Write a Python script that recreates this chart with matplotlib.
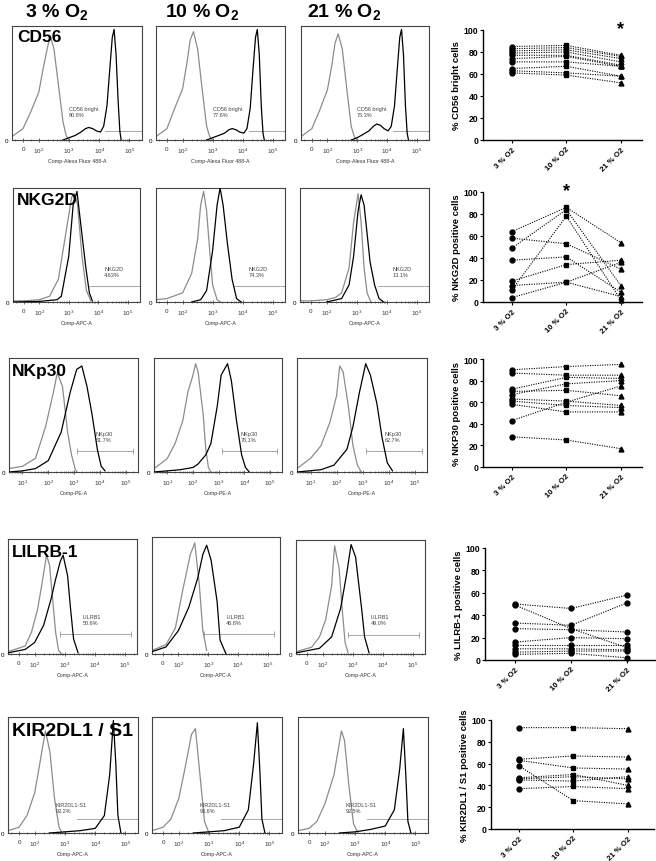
import matplotlib
matplotlib.use("Agg")
import matplotlib.pyplot as plt
from matplotlib.ticker import FixedLocator, NullFormatter

plt.rcParams['font.family'] = ['Liberation Sans', 'DejaVu Sans']
plt.rcParams['mathtext.fontset'] = 'custom'
plt.rcParams['mathtext.rm'] = 'Liberation Sans'
plt.rcParams['mathtext.it'] = 'Liberation Sans:italic'
plt.rcParams['mathtext.bf'] = 'Liberation Sans:bold'

W, H = 656, 862

# ---------------- data: titles / labels ----------------
conditions = ["3 % O2", "10 % O2", "21 % O2"]
markers_names = ["CD56", "NKG2D", "NKp30", "LILRB-1", "KIR2DL1 / S1"]
axis_names = ["Comp-Alexa Fluor 488-A", "Comp-APC-A", "Comp-PE-A", "Comp-APC-A", "Comp-APC-A"]
gate_names = ["CD56 bright", "NKG2D", "NKp30", "LILRB1", "KIR2DL1-S1"]

cd56_pct = ["80.8%", "77.6%", "75.3%"]
nkg2d_pct = ["4.63%", "74.3%", "13.1%"]
nkp30_pct = ["61.7%", "76.1%", "62.7%"]
lilrb1_pct = ["50.6%", "46.8%", "49.0%"]
kir_pct = ["93.2%", "93.6%", "92.5%"]

# ---------------- data: histogram curves (fluorescence, relative count) ----------------
cd56_iso_x = [[-70, 0, 50, 100, 140, 200, 240, 316, 447, 631, 800, 1000],
              [-70, 0, 50, 100, 140, 180, 230, 316, 447, 631, 800, 1000],
              [-70, 0, 50, 100, 140, 180, 230, 316, 447, 631, 800, 1000]]
cd56_iso_y = [[0.03, 0.1, 0.25, 0.42, 0.63, 0.83, 0.91, 0.8, 0.48, 0.16, 0.04, 0.0],
              [0.03, 0.1, 0.28, 0.45, 0.68, 0.88, 0.95, 0.8, 0.45, 0.12, 0.03, 0.0],
              [0.03, 0.1, 0.26, 0.44, 0.65, 0.85, 0.93, 0.8, 0.45, 0.12, 0.03, 0.0]]
cd56_pos_x = [[631, 1000, 1600, 2500, 3500, 4500, 6000, 8000, 11000, 14000, 18000, 22000, 27000, 31000, 36000, 42000, 48000, 53000],
              [631, 1000, 1600, 2500, 3500, 4500, 6000, 8000, 11000, 14000, 18000, 22000, 27000, 31000, 36000, 42000, 48000, 53000],
              [631, 1000, 1600, 2500, 3500, 4500, 6000, 8000, 11000, 14000, 18000, 22000, 27000, 31000, 36000, 42000, 48000, 53000]]
cd56_pos_y = [[0.0, 0.02, 0.04, 0.07, 0.1, 0.11, 0.1, 0.08, 0.07, 0.12, 0.3, 0.6, 0.9, 0.97, 0.75, 0.35, 0.08, 0.0],
              [0.0, 0.02, 0.04, 0.06, 0.09, 0.1, 0.09, 0.07, 0.06, 0.1, 0.28, 0.6, 0.9, 0.97, 0.75, 0.3, 0.06, 0.0],
              [0.0, 0.02, 0.05, 0.08, 0.12, 0.14, 0.13, 0.1, 0.08, 0.12, 0.3, 0.6, 0.9, 0.97, 0.75, 0.3, 0.06, 0.0]]

nkg2d_iso_x = [[-70, 0, 100, 224, 447, 794, 1259, 1585, 2000, 2818, 3981, 5623],
               [-70, 0, 100, 200, 316, 400, 500, 631, 800, 1000, 1413, 1800],
               [-70, 0, 100, 200, 316, 562, 794, 1122, 1413, 1778, 2239, 3000]]
nkg2d_iso_y = [[0.01, 0.01, 0.02, 0.05, 0.2, 0.6, 0.92, 0.95, 0.85, 0.4, 0.1, 0.01],
               [0.02, 0.03, 0.08, 0.25, 0.55, 0.85, 0.97, 0.8, 0.45, 0.15, 0.02, 0.0],
               [0.01, 0.01, 0.02, 0.04, 0.08, 0.3, 0.7, 0.95, 0.7, 0.3, 0.08, 0.0]]
nkg2d_pos_x = [[-70, 100, 400, 562, 1000, 1413, 1905, 2512, 3802, 5012, 6310],
               [200, 400, 631, 1000, 1413, 1778, 2239, 3162, 4467, 6310, 8913],
               [100, 316, 562, 794, 1122, 1413, 1778, 2818, 3981, 5623, 7943]]
nkg2d_pos_y = [[0.0, 0.005, 0.02, 0.05, 0.4, 0.85, 0.97, 0.7, 0.3, 0.08, 0.01],
               [0.0, 0.02, 0.1, 0.45, 0.85, 1.0, 0.85, 0.5, 0.2, 0.03, 0.0],
               [0.0, 0.03, 0.15, 0.4, 0.8, 0.94, 0.85, 0.35, 0.15, 0.03, 0.0]]

nkp30_iso_x = [[3, 10, 32, 79, 158, 224, 355, 562, 794, 1122, 1300],
               [3, 6, 10, 20, 40, 63, 100, 126, 158, 251, 316, 400, 500],
               [3, 10, 25, 56, 100, 132, 178, 282, 427, 631, 891]]
nkp30_iso_y = [[0.03, 0.05, 0.12, 0.4, 0.7, 0.87, 0.75, 0.35, 0.15, 0.02, 0.0],
               [0.03, 0.08, 0.12, 0.25, 0.45, 0.7, 0.85, 0.95, 0.88, 0.5, 0.2, 0.04, 0.0],
               [0.03, 0.12, 0.23, 0.44, 0.67, 0.93, 0.88, 0.58, 0.23, 0.06, 0.0]]
nkp30_pos_x = [[3, 10, 32, 100, 316, 708, 1259, 1995, 3162, 5012, 7943, 11220, 15849],
               [3, 10, 32, 100, 158, 316, 501, 891, 1259, 2239, 3162, 5012, 7943, 11220, 15849],
               [3, 25, 79, 251, 427, 759, 1318, 1995, 3548, 5623, 8913, 14125]]
nkp30_pos_y = [[0.0, 0.01, 0.03, 0.1, 0.35, 0.7, 0.9, 0.93, 0.75, 0.5, 0.2, 0.05, 0.01],
               [0.0, 0.01, 0.02, 0.04, 0.07, 0.15, 0.25, 0.58, 0.85, 0.95, 0.8, 0.45, 0.15, 0.04, 0.0],
               [0.0, 0.02, 0.06, 0.2, 0.4, 0.7, 0.95, 0.85, 0.6, 0.3, 0.08, 0.01]]

lilrb1_iso_x = [[-70, 40, 80, 126, 178, 251, 316, 398, 501, 631, 794],
                [-70, 20, 80, 141, 251, 355, 501, 661, 891],
                [-70, 30, 80, 126, 200, 251, 355, 447, 562, 708]]
lilrb1_iso_y = [[0.02, 0.07, 0.19, 0.39, 0.62, 0.86, 0.77, 0.48, 0.19, 0.03, 0.0],
                [0.03, 0.08, 0.22, 0.55, 0.85, 0.95, 0.6, 0.2, 0.03],
                [0.02, 0.06, 0.15, 0.3, 0.6, 0.95, 0.75, 0.4, 0.1, 0.01]]
lilrb1_pos_x = [[-70, 40, 100, 200, 355, 501, 708, 891, 1259, 1585, 1995, 2818],
                [-70, 20, 100, 224, 447, 661, 891, 1259, 1995, 2512, 3981],
                [-70, 80, 200, 398, 631, 891, 1259, 1995, 2512, 3548]]
lilrb1_pos_y = [[0.01, 0.04, 0.1, 0.25, 0.48, 0.65, 0.8, 0.86, 0.68, 0.39, 0.13, 0.01],
                [0.02, 0.06, 0.2, 0.4, 0.65, 0.85, 0.93, 0.8, 0.45, 0.12, 0.0],
                [0.01, 0.05, 0.15, 0.4, 0.7, 0.96, 0.85, 0.4, 0.15, 0.01]]

kir_iso_x = [[-70, 0, 50, 100, 158, 224, 316, 447, 631, 800],
             [-70, 0, 50, 100, 158, 263, 355, 501, 708, 1000],
             [-70, 0, 50, 100, 200, 355, 447, 631, 891, 1259]]
kir_iso_y = [[0.02, 0.05, 0.15, 0.35, 0.65, 0.88, 0.7, 0.3, 0.05, 0.0],
             [0.02, 0.05, 0.12, 0.3, 0.55, 0.85, 0.9, 0.5, 0.1, 0.0],
             [0.02, 0.04, 0.1, 0.25, 0.5, 0.88, 0.8, 0.4, 0.08, 0.0]]
kir_pos_x = [[300, 1000, 3162, 10000, 20000, 30000, 39811, 47863, 56234, 70795],
             [300, 1000, 3162, 10000, 20000, 30000, 39811, 47863, 56234, 70795],
             [300, 1000, 3162, 10000, 20000, 30000, 39811, 47863, 56234, 70795]]
kir_pos_y = [[0.0, 0.01, 0.02, 0.04, 0.15, 0.5, 0.97, 0.6, 0.15, 0.0],
             [0.0, 0.01, 0.02, 0.05, 0.2, 0.6, 0.95, 0.55, 0.12, 0.0],
             [0.0, 0.01, 0.03, 0.06, 0.2, 0.55, 0.9, 0.5, 0.1, 0.0]]

# ---------------- data: donor percentages (3 %, 10 %, 21 % O2) ----------------
cd56_donors = [[85, 86, 77], [83, 84, 76], [81, 82, 74], [79, 80, 71], [77, 77, 68],
               [74, 76, 67], [71, 71, 67], [65, 67, 58], [63, 61, 58], [61, 59, 52]]
nkg2d_donors = [[64, 86, 54], [58, 53, 30], [49, 84, 15], [38, 41, 9],
                [19, 34, 38], [15, 18, 5], [11, 78, 2], [4, 18, 36]]
nkp30_donors = [[90, 93, 95], [87, 85, 85], [72, 83, 82], [70, 71, 66], [67, 77, 80],
                [63, 61, 57], [61, 57, 55], [58, 51, 51], [43, 60, 75], [28, 25, 17]]
lilrb1_donors = [[50, 46, 58], [49, 28, 11], [33, 31, 51], [28, 27, 25], [16, 20, 19],
                 [13, 13, 13], [10, 10, 9], [7, 8, 8], [5, 6, 2]]
kir_donors = [[93, 93, 92], [64, 67, 66], [63, 56, 55], [58, 26, 23], [47, 50, 40],
              [46, 48, 46], [45, 44, 48], [37, 39, 37]]
scatter_ylabels = ["% CD56 bright cells", "% NKG2D positive cells", "% NKP30 positive cells",
                   "% LILRB-1 positive cells", "% KIR2DL1 / S1 positive cells"]
star_condition = [2, 1, None, None, None]

# ---------------- layout (pixels) ----------------
hist_boxes = [
    [(12, 27, 142, 141), (156, 27, 285, 141), (301, 27, 429, 141)],
    [(13, 189, 140, 303), (156, 189, 285, 303), (300, 189, 429, 303)],
    [(9, 359, 138, 473), (154, 359, 282, 473), (297, 359, 427, 473)],
    [(8, 540, 137, 655), (152, 538, 280, 655), (296, 541, 425, 655)],
    [(8, 718, 138, 834), (152, 718, 282, 834), (298, 718, 428, 834)],
]
scatter_boxes = [(483, 31, 642, 141), (483, 193, 642, 303), (483, 360, 642, 468),
                 (485, 549, 655, 661), (491, 721, 654, 830)]
scatter_xlims = [(-0.53, 2.39), (-0.53, 2.39), (-0.53, 2.39), (-0.54, 2.5), (-0.51, 2.48)]

fig = plt.figure(figsize=(W / 100, H / 100), dpi=100)


def px_axes(box):
    l, t, r, b = box
    return fig.add_axes([l / W, 1 - b / H, (r - l) / W, (b - t) / H])


iso_x = [cd56_iso_x, nkg2d_iso_x, nkp30_iso_x, lilrb1_iso_x, kir_iso_x]
iso_y = [cd56_iso_y, nkg2d_iso_y, nkp30_iso_y, lilrb1_iso_y, kir_iso_y]
pos_x = [cd56_pos_x, nkg2d_pos_x, nkp30_pos_x, lilrb1_pos_x, kir_pos_x]
pos_y = [cd56_pos_y, nkg2d_pos_y, nkp30_pos_y, lilrb1_pos_y, kir_pos_y]
pcts = [cd56_pct, nkg2d_pct, nkp30_pct, lilrb1_pct, kir_pct]
donors = [cd56_donors, nkg2d_donors, nkp30_donors, lilrb1_donors, kir_donors]

# gate settings: (x start, x end, y, label x, label y, end bars)
gates = [
    (1.6e4, 2.6e5, 0.08, 1.0e3, 0.2, False),
    (5.0e3, 2.6e5, 0.14, 1.6e4, 0.22, False),
    (1.3e3, 2.0e5, 0.18, 7.0e3, 0.26, True),
    (7.0e2, 1.6e5, 0.17, 4.0e3, 0.25, True),
    (2.5e3, 2.6e5, 0.12, 5.0e2, 0.17, False),
]

GRAY = '#8c8c8c'

for r in range(5):
    for c in range(3):
        ax = px_axes(hist_boxes[r][c])
        is_log = (r == 2)
        if is_log:
            ax.set_xscale('log')
            ax.set_xlim(3, 3e5)
            maj = [1e1, 1e2, 1e3, 1e4, 1e5]
            majl = ['$10^1$', '$10^2$', '$10^3$', '$10^4$', '$10^5$']
            mins = [k * 10 ** d for d in range(0, 6) for k in range(2, 10)]
        else:
            ax.set_xscale('symlog', linthresh=100, linscale=0.47)
            ax.set_xlim(-70, 2.6e5)
            maj = [0, 1e2, 1e3, 1e4, 1e5]
            majl = ['0', '$10^2$', '$10^3$', '$10^4$', '$10^5$']
            mins = [-50, 50] + [k * 10 ** d for d in range(2, 6) for k in range(2, 10)]
        ax.set_ylim(0, 1.0)
        ax.plot(iso_x[r][c], iso_y[r][c], color=GRAY, lw=0.9, zorder=2)
        ax.plot(pos_x[r][c], pos_y[r][c], color='black', lw=0.9, zorder=3)
        gx0, gx1, gy, lx, ly, bars = gates[r]
        ax.plot([gx0, gx1], [gy, gy], color='#999999', lw=0.6, zorder=1,
                marker='|' if bars else None, markersize=4, markeredgewidth=0.6)
        ax.text(lx, ly, gate_names[r] + "\n" + pcts[r][c], fontsize=4, color='#444444',
                ha='left', va='bottom', linespacing=1.3)
        ax.xaxis.set_major_locator(FixedLocator(maj))
        ax.set_xticklabels(majl)
        ax.xaxis.set_minor_locator(FixedLocator(mins))
        ax.xaxis.set_minor_formatter(NullFormatter())
        ax.set_yticks([0])
        ax.set_yticklabels(['0'])
        ax.tick_params(axis='x', which='major', labelsize=4.5, length=2.5, width=0.5,
                       direction='inout', pad=3, colors='#333333')
        ax.tick_params(axis='x', which='minor', length=1.5, width=0.4, direction='inout',
                       colors='#333333')
        ax.tick_params(axis='y', labelsize=4.5, length=0, pad=3)
        for s in ax.spines.values():
            s.set_linewidth(0.8)
            s.set_color('#444444')
        ax.set_xlabel(axis_names[r], fontsize=3.8, labelpad=2, color='#333333')

# marker names on first panel of each row
name_pos = [(17, 30), (17, 193), (12, 364), (12, 545), (12, 723)]
name_size = [12.5, 12.5, 12.5, 12.5, 14]
for r in range(5):
    x, y = name_pos[r]
    fig.text(x / W, 1 - y / H, markers_names[r], fontsize=name_size[r], fontweight='bold',
             ha='left', va='top')

# column titles
title_cx = [57, 202, 344]
for c in range(3):
    num = conditions[c].split(' % ')[0]
    fig.text(title_cx[c] / W, 1 - 12 / H, num + r" % O$_{\mathbf{2}}$", fontsize=14,
             fontweight='bold', ha='center', va='center')

# scatter plots
cat_markers = ['o', 's', '^']
for r in range(5):
    ax = px_axes(scatter_boxes[r])
    xs = [0, 1, 2]
    for d in donors[r]:
        ax.plot(xs, d, color='black', lw=0.8, ls=(0, (1, 1.2)), zorder=2, clip_on=False)
    for ci in range(3):
        mk = 'o' if r == 3 else cat_markers[ci]
        ax.plot([ci] * len(donors[r]), [d[ci] for d in donors[r]], ls='none', marker=mk,
                color='black', markersize=3.5, zorder=3, clip_on=False)
    ax.set_xlim(*scatter_xlims[r])
    ax.set_ylim(0, 100)
    ax.set_yticks([0, 20, 40, 60, 80, 100])
    ax.set_xticks(xs)
    ax.set_xticklabels(["3 % O2", "10 % O2", "21 % O2"], rotation=45, ha='right',
                       rotation_mode='anchor', fontsize=5.6)
    ax.tick_params(axis='y', labelsize=6.2, length=2.5, width=0.8, pad=1)
    ax.tick_params(axis='x', length=2.5, width=0.8, pad=1.5)
    for lab in ax.get_yticklabels() + ax.get_xticklabels():
        lab.set_fontweight('bold')
    for s in ['top', 'right']:
        ax.spines[s].set_visible(False)
    for s in ['left', 'bottom']:
        ax.spines[s].set_linewidth(1.0)
    ax.set_ylabel(scatter_ylabels[r], fontsize=6.8, fontweight='bold', labelpad=2)
    if star_condition[r] is not None:
        ax.text(star_condition[r], 101, '*', fontsize=13, fontweight='bold', ha='center',
                va='center', clip_on=False)

fig.savefig('out.png', dpi=100)
